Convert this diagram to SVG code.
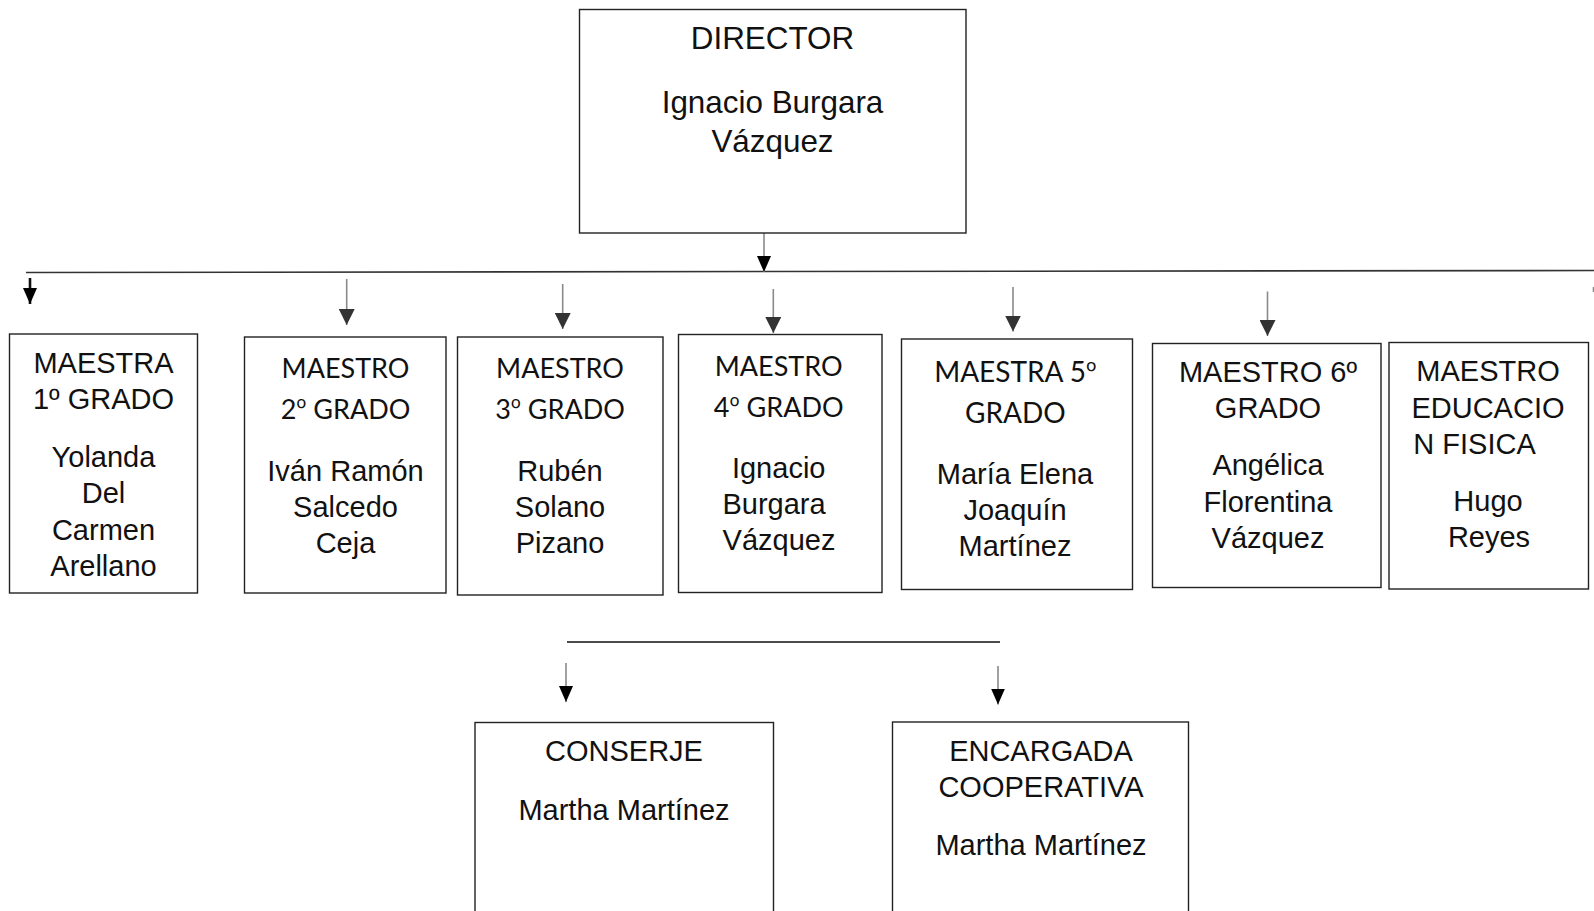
<svg xmlns="http://www.w3.org/2000/svg" width="1594" height="911" viewBox="0 0 1594 911">
<defs>
<style>
.box{fill:#fff;stroke:#222;stroke-width:1.4}
.t{font-family:"Liberation Sans",Arial,sans-serif;font-size:29px;fill:#111;text-anchor:middle}
.d{font-size:31.4px}
.c{font-family:Lato,"Open Sans",sans-serif;font-size:27px;fill:#111;text-anchor:middle}
.c5{font-size:28px}
.o{font-family:"Open Sans",sans-serif}
.bar{stroke:#333;stroke-width:1.6;fill:none}
.conn{stroke:#8a8a8a;stroke-width:1.6;fill:none}
.connk{stroke:#111;stroke-width:2.6;fill:none}
</style>
<marker id="ah" markerUnits="userSpaceOnUse" markerWidth="16" markerHeight="16" refX="16" refY="8" orient="auto" viewBox="0 0 16 16">
<path d="M0,0 L16,8 L0,16 Z" fill="#333"/>
</marker>
<marker id="ahk" markerUnits="userSpaceOnUse" markerWidth="16" markerHeight="16" refX="16" refY="8" orient="auto" viewBox="0 0 16 16">
<path d="M0,1 L16,8 L0,15 Z" fill="#000"/>
</marker>
</defs>
<rect width="1594" height="911" fill="#fff"/>

<g id="connectors">
<line class="bar" x1="26" y1="272.5" x2="1594" y2="270.5"/>
<line class="conn" x1="764" y1="233" x2="764" y2="272" marker-end="url(#ahk)"/>
<line class="connk" x1="30" y1="278" x2="30" y2="304" marker-end="url(#ahk)"/>
<line class="conn" x1="346.7" y1="279" x2="346.7" y2="325" marker-end="url(#ah)"/>
<line class="conn" x1="562.7" y1="284" x2="562.7" y2="329" marker-end="url(#ah)"/>
<line class="conn" x1="773.3" y1="289" x2="773.3" y2="333" marker-end="url(#ah)"/>
<line class="conn" x1="1013" y1="287" x2="1013" y2="331.5" marker-end="url(#ah)"/>
<line class="conn" x1="1267.5" y1="291.5" x2="1267.5" y2="336" marker-end="url(#ah)"/>
<line class="conn" x1="1593.5" y1="287" x2="1593.5" y2="292"/>
<line class="bar" x1="567" y1="642" x2="1000" y2="642" style="stroke:#111"/>
<line class="conn" x1="566" y1="663" x2="566" y2="702" marker-end="url(#ahk)"/>
<line class="conn" x1="998" y1="666" x2="998" y2="704.5" marker-end="url(#ahk)"/>
</g>

<g id="director">
<rect class="box" x="579.5" y="9.5" width="386.5" height="223.5"/>
<text class="t d" x="772.5" y="49">DIRECTOR</text>
<text class="t d" x="772.5" y="113">Ignacio Burgara</text>
<text class="t d" x="772.5" y="151.7">Vázquez</text>
</g>

<g id="maestra1">
<rect class="box" x="9.5" y="334" width="188" height="259"/>
<text class="t" x="103.5" y="373.3">MAESTRA</text>
<text class="t" x="103.5" y="409.3">1º GRADO</text>
<text class="t" x="103.5" y="466.7">Yolanda</text>
<text class="t" x="103.5" y="503.3">Del</text>
<text class="t" x="103.5" y="540">Carmen</text>
<text class="t" x="103.5" y="575.5">Arellano</text>
</g>

<g id="maestro2">
<rect class="box" x="244.5" y="337" width="201.5" height="256"/>
<text class="c" x="345.5" y="378.3">MAESTRO</text>
<text class="c" x="345.5" y="419.3">2<tspan class="o">º</tspan> GRADO</text>
<text class="t" x="345.5" y="480.7">Iván Ramón</text>
<text class="t" x="345.5" y="516.7">Salcedo</text>
<text class="t" x="345.5" y="552.7">Ceja</text>
</g>

<g id="maestro3">
<rect class="box" x="457.5" y="337" width="205.5" height="258"/>
<text class="c" x="560" y="378.3">MAESTRO</text>
<text class="c" x="560" y="419.3">3<tspan class="o">º</tspan> GRADO</text>
<text class="t" x="560" y="480.7">Rubén</text>
<text class="t" x="560" y="516.7">Solano</text>
<text class="t" x="560" y="552.7">Pizano</text>
</g>

<g id="maestro4">
<rect class="box" x="678.5" y="334.5" width="203.5" height="258"/>
<text class="c" x="778.7" y="376">MAESTRO</text>
<text class="c" x="778.7" y="416.7">4<tspan class="o">º</tspan> GRADO</text>
<text class="t" x="778.7" y="478.3">Ignacio</text>
<text class="t" x="774" y="514">Burgara</text>
<text class="t" x="779" y="550">Vázquez</text>
</g>

<g id="maestra5">
<rect class="box" x="901.5" y="339" width="231" height="250.5"/>
<text class="c c5" x="1015.3" y="381.7">MAESTRA 5<tspan class="o">º</tspan></text>
<text class="c c5" x="1015.3" y="423.3">GRADO</text>
<text class="t" x="1015" y="483.5">María Elena</text>
<text class="t" x="1015" y="520">Joaquín</text>
<text class="t" x="1015" y="556">Martínez</text>
</g>

<g id="maestro6">
<rect class="box" x="1152.5" y="343.5" width="228.5" height="244"/>
<text class="t" x="1268" y="381.5">MAESTRO 6º</text>
<text class="t" x="1268" y="418">GRADO</text>
<text class="t" x="1268" y="475">Angélica</text>
<text class="t" x="1268" y="511.7">Florentina</text>
<text class="t" x="1268" y="548.3">Vázquez</text>
</g>

<g id="maestro-ef">
<rect class="box" x="1389" y="342.5" width="199.5" height="246.5"/>
<text class="t" x="1488" y="381">MAESTRO</text>
<text class="t" x="1488" y="417.7">EDUCACIO</text>
<text class="t" x="1413.3" y="454" style="text-anchor:start">N FISICA</text>
<text class="t" x="1488" y="511">Hugo</text>
<text class="t" x="1489" y="546.7">Reyes</text>
</g>

<g id="conserje">
<rect class="box" x="475" y="722.5" width="298.5" height="200"/>
<text class="t" x="624" y="760.7">CONSERJE</text>
<text class="t" x="624" y="820">Martha Martínez</text>
</g>

<g id="cooperativa">
<rect class="box" x="892.5" y="722" width="296" height="200"/>
<text class="t" x="1041" y="760.7">ENCARGADA</text>
<text class="t" x="1041" y="796.7">COOPERATIVA</text>
<text class="t" x="1041" y="855">Martha Martínez</text>
</g>
</svg>
